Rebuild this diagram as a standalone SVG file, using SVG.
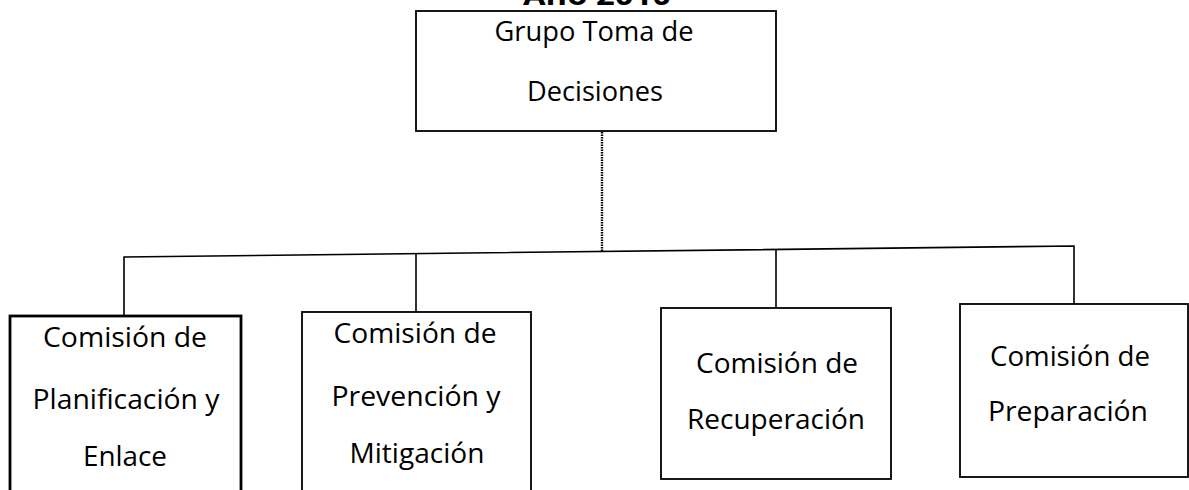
<svg xmlns="http://www.w3.org/2000/svg" width="1189" height="490" viewBox="0 0 1189 490">
<style>
.box{fill:#fff;stroke:#000;stroke-width:1.8}
.thick{stroke-width:2.8}
.t{font-family:"Open Sans","Liberation Sans",sans-serif;font-size:27px;font-weight:500;fill:#000;text-anchor:middle}
.top{font-size:27px}
.title{font-family:"Open Sans","Liberation Sans",sans-serif;font-size:27px;font-weight:bold;fill:#000;text-anchor:middle}
.c{fill:none;stroke:#000;stroke-width:1.6}
.dot{fill:none;stroke:#000;stroke-width:2.4;stroke-dasharray:1.5 1}
</style>
<rect width="1189" height="490" fill="#fff"/>
<text class="title" x="597" y="5" textLength="148" lengthAdjust="spacingAndGlyphs">Año 2010</text>
<g id="connectors">
<line class="dot" x1="602" y1="132" x2="602" y2="251.5"/>
<polyline class="c" points="124,316 124,257 1074,246 1074,304"/>
<line class="c" x1="416" y1="253.6" x2="416" y2="312"/>
<line class="c" x1="776" y1="249.4" x2="776" y2="308"/>
</g>
<g id="n0">
<rect class="box" x="416" y="11" width="360" height="120"/>
<text class="t top" x="594" y="41" textLength="199" lengthAdjust="spacingAndGlyphs">Grupo Toma de</text>
<text class="t top" x="595" y="101" textLength="136" lengthAdjust="spacingAndGlyphs">Decisiones</text>
</g>
<g id="n1">
<rect class="box thick" x="10" y="316" width="231" height="180"/>
<text class="t" x="125" y="347" textLength="164" lengthAdjust="spacingAndGlyphs">Comisión de</text>
<text class="t" x="126" y="409" textLength="187" lengthAdjust="spacingAndGlyphs">Planificación y</text>
<text class="t" x="125" y="466" textLength="84" lengthAdjust="spacingAndGlyphs">Enlace</text>
</g>
<g id="n2">
<rect class="box" x="302" y="312" width="229" height="184"/>
<text class="t" x="415" y="343" textLength="163" lengthAdjust="spacingAndGlyphs">Comisión de</text>
<text class="t" x="416" y="406" textLength="169" lengthAdjust="spacingAndGlyphs">Prevención y</text>
<text class="t" x="417" y="463" textLength="135" lengthAdjust="spacingAndGlyphs">Mitigación</text>
</g>
<g id="n3">
<rect class="box" x="661" y="308" width="230" height="171"/>
<text class="t" x="777" y="373" textLength="162" lengthAdjust="spacingAndGlyphs">Comisión de</text>
<text class="t" x="776" y="429" textLength="178" lengthAdjust="spacingAndGlyphs">Recuperación</text>
</g>
<g id="n4">
<rect class="box" x="960" y="304" width="228" height="173"/>
<text class="t" x="1070" y="366" textLength="160" lengthAdjust="spacingAndGlyphs">Comisión de</text>
<text class="t" x="1068" y="421" textLength="160" lengthAdjust="spacingAndGlyphs">Preparación</text>
</g>
</svg>
